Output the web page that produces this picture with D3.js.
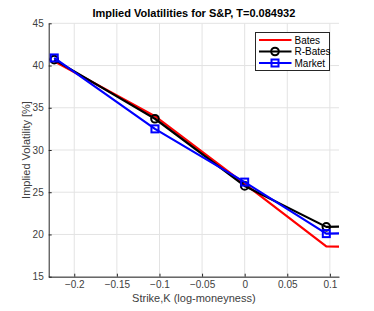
<!DOCTYPE html>
<html>
<head>
<meta charset="utf-8">
<script src="https://cdn.jsdelivr.net/npm/d3@7"></script>
<style>
body{margin:0;background:#fff;}
text{font-family:"Liberation Sans",Arial,sans-serif;}
</style>
</head>
<body>
<div id="chart"></div>
<script>
// strikes (log-moneyness)
var strikes = [-0.2235, -0.1053, 0, 0.0958, 0.19];
var bates   = [40.5, 34.0, 26.0, 18.6, 18.4];
var rBates  = [40.7, 33.7, 25.75, 20.9, 21.1];
var market  = [40.9, 32.5, 26.2, 20.1, 20.3];
var xTicks = [-0.2, -0.15, -0.1, -0.05, 0, 0.05, 0.1];
var yTicks = [15, 20, 25, 30, 35, 40, 45];

var W = 374, H = 311;
var margin = {top: 23.3, right: 35, bottom: 34.3, left: 48.7};
var width = W - margin.left - margin.right,
  height = H - margin.top - margin.bottom;

var svg = d3.select("#chart").append("svg")
  .attr("width", W).attr("height", H);
var g = svg.append("g")
  .attr("transform", "translate(" + margin.left + "," + margin.top + ")");

var x = d3.scaleLinear().domain([-0.23, 0.1107]).range([0, width]);
var y = d3.scaleLinear().domain([15, 45]).range([height, 0]);

// grid
g.append("g").selectAll("line").data(xTicks).enter().append("line")
  .attr("x1", function(d){ return x(d); }).attr("x2", function(d){ return x(d); })
  .attr("y1", 0).attr("y2", height)
  .attr("stroke", "#e3e3e3").attr("stroke-width", 1);
g.append("g").selectAll("line").data(yTicks).enter().append("line")
  .attr("y1", function(d){ return y(d); }).attr("y2", function(d){ return y(d); })
  .attr("x1", 0).attr("x2", width)
  .attr("stroke", "#e3e3e3").attr("stroke-width", 1);

// axes
var xAxis = d3.axisBottom(x).tickValues(xTicks).tickSizeInner(-3).tickSizeOuter(0)
  .tickPadding(4).tickFormat(function(d){ return d3.format("")(+d.toFixed(2)); });
var yAxis = d3.axisLeft(y).tickValues(yTicks).tickSizeInner(-3).tickSizeOuter(0)
  .tickPadding(5);

var gx = g.append("g").attr("transform", "translate(0," + height + ")").call(xAxis);
var gy = g.append("g").call(yAxis);
[gx, gy].forEach(function(a){
  a.select(".domain").attr("stroke", "#262626");
  a.selectAll(".tick line").attr("stroke", "#262626");
  a.selectAll(".tick text").attr("fill", "#404040").style("font-size", "10px")
    .style("font-family", "Liberation Sans, Arial, sans-serif");
});

// clip
svg.append("defs").append("clipPath").attr("id", "clip")
  .append("rect").attr("width", width).attr("height", height);
var plot = g.append("g").attr("clip-path", "url(#clip)");

var series = [
  {name: "Bates", vals: bates, color: "#ff0000", marker: null},
  {name: "R-Bates", vals: rBates, color: "#000000", marker: "circle"},
  {name: "Market", vals: market, color: "#0000ff", marker: "square"}
];

var line = d3.line()
  .x(function(d){ return x(d[0]); })
  .y(function(d){ return y(d[1]); });

function drawMarker(sel, type, color, cx, cy){
  if(type == "circle"){
    sel.append("circle").attr("cx", cx).attr("cy", cy).attr("r", 3.8)
      .attr("fill", "none").attr("stroke", color).attr("stroke-width", 2);
  } else if(type == "square"){
    sel.append("rect").attr("x", cx - 3.5).attr("y", cy - 3.5)
      .attr("width", 7).attr("height", 7)
      .attr("fill", "none").attr("stroke", color).attr("stroke-width", 2);
  }
}

series.forEach(function(s){
  var pts = strikes.map(function(k, i){ return [k, s.vals[i]]; });
  plot.append("path").datum(pts).attr("d", line)
    .attr("fill", "none").attr("stroke", s.color).attr("stroke-width", 2.2)
    .attr("stroke-linejoin", "round");
  if(s.marker){
    pts.forEach(function(p){
      drawMarker(plot, s.marker, s.color, x(p[0]), y(p[1]));
    });
  }
});

// title and labels
svg.append("text").attr("x", margin.left + width / 2).attr("y", 17)
  .attr("text-anchor", "middle").style("font-size", "11px").style("font-weight", "bold")
  .attr("fill", "#000").text("Implied Volatilities for S&P, T=0.084932");
svg.append("text").attr("x", margin.left + width / 2).attr("y", 302)
  .attr("text-anchor", "middle").style("font-size", "11px").attr("fill", "#404040")
  .text("Strike,K (log-moneyness)");
svg.append("text")
  .attr("transform", "translate(30," + (margin.top + height / 2) + ") rotate(-90)")
  .attr("text-anchor", "middle").style("font-size", "11px").attr("fill", "#404040")
  .text("Implied Volatility [%]");

// legend
var lg = svg.append("g").attr("transform", "translate(255.5,32.5)");
lg.append("rect").attr("width", 74).attr("height", 38)
  .attr("fill", "#fff").attr("stroke", "#262626").attr("stroke-width", 1);
series.forEach(function(s, i){
  var yy = 7.5 + i * 11.5;
  lg.append("line").attr("x1", 3.5).attr("x2", 36).attr("y1", yy).attr("y2", yy)
    .attr("stroke", s.color).attr("stroke-width", 2);
  if(s.marker) drawMarker(lg, s.marker, s.color, 19.5, yy);
  lg.append("text").attr("x", 39).attr("y", yy + 3.5).style("font-size", "10px")
    .attr("fill", "#000").text(s.name);
});
</script>
</body>
</html>
